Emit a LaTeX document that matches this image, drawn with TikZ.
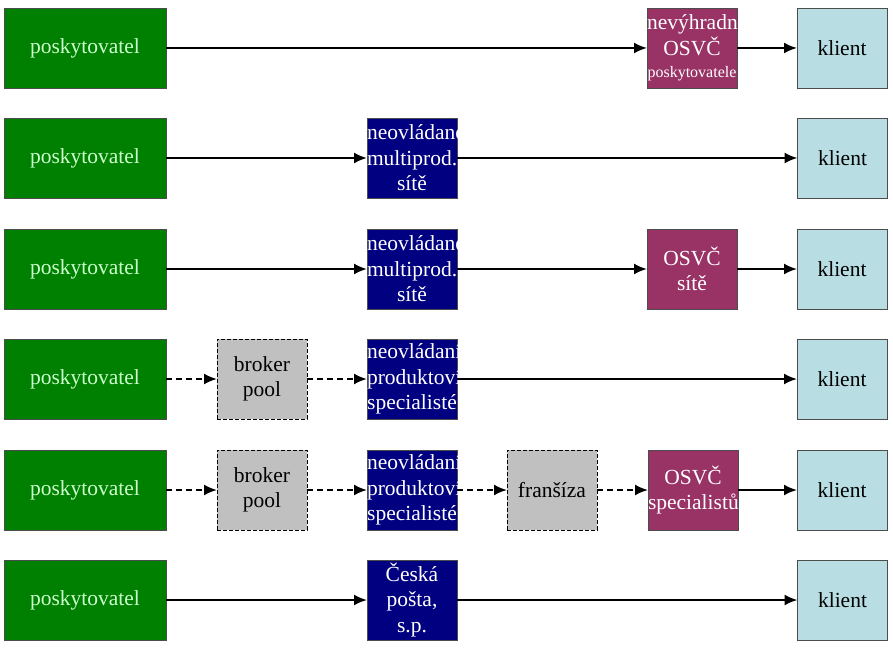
\documentclass[tikz,border=0pt]{standalone}
\usepackage{fontspec}
\setmainfont{Liberation Serif}
\usetikzlibrary{arrows.meta}
\definecolor{gbox}{RGB}{0,128,0}
\definecolor{gtext}{RGB}{204,255,204}
\definecolor{nbox}{RGB}{0,0,128}
\definecolor{mbox}{RGB}{153,51,102}
\definecolor{kbox}{RGB}{184,222,228}
\definecolor{sbox}{RGB}{192,192,192}
\hfuzz=100pt
\tikzset{
  base/.style={rectangle, draw=black!70, line width=0.6pt, minimum height=80pt, inner sep=0pt, outer sep=0pt, align=center, font=\fontsize{21.5}{25.5}\selectfont},
  prov/.style={base, fill=gbox, text=gtext, minimum width=162pt, text width=162pt},
  navy/.style={base, fill=nbox, text=white, minimum width=90pt, text width=90pt},
  maroon/.style={base, fill=mbox, text=white, minimum width=90pt, text width=90pt},
  client/.style={base, fill=kbox, text=black, minimum width=90pt, text width=90pt},
  grey/.style={base, fill=sbox, text=black, draw=black, dash pattern=on 4pt off 2pt, minimum width=90pt, text width=90pt},
  arr/.style={line width=2pt, -{Latex[length=13pt,width=11pt]}},
  darr/.style={arr, dash pattern=on 6pt off 4pt}
}
\begin{document}
\begin{tikzpicture}[x=1pt,y=-1pt]
\useasboundingbox (0,0) rectangle (893,652);
% row 1
\node[prov] (p1) at (85,48) {poskytovatel};
\node[maroon] (m1) at (692,48) {nevýhradní\\OSVČ\\[-3pt]{\fontsize{16}{18}\selectfont poskytovatele}};
\node[client] (k1) at (842,48) {klient};
\draw[arr] (p1) -- (m1);
\draw[arr] (m1) -- (k1);
% row 2
\node[prov] (p2) at (85,158) {poskytovatel};
\node[navy] (n2) at (412,158) {neovládané\\multiprod.\\sítě};
\node[client] (k2) at (842.5,158) {klient};
\draw[arr] (p2) -- (n2);
\draw[arr] (n2) -- (k2);
% row 3
\node[prov] (p3) at (85,269) {poskytovatel};
\node[navy] (n3) at (412,269) {neovládané\\multiprod.\\sítě};
\node[maroon] (m3) at (692,269) {OSVČ\\sítě};
\node[client] (k3) at (842,269) {klient};
\draw[arr] (p3) -- (n3);
\draw[arr] (n3) -- (m3);
\draw[arr] (m3) -- (k3);
% row 4
\node[prov] (p4) at (85,379) {poskytovatel};
\node[grey] (b4) at (262,379) {broker\\pool};
\node[navy] (n4) at (412,379) {neovládaní\\produktoví\\specialisté};
\node[client] (k4) at (842,379) {klient};
\draw[darr] (p4) -- (b4);
\draw[darr] (b4) -- (n4);
\draw[arr] (n4) -- (k4);
% row 5
\node[prov] (p5) at (85,490) {poskytovatel};
\node[grey] (b5) at (262,490) {broker\\pool};
\node[navy] (n5) at (412,490) {neovládaní\\produktoví\\specialisté};
\node[grey] (f5) at (552,490) {franšíza};
\node[maroon] (m5) at (693,490) {OSVČ\\specialistů};
\node[client] (k5) at (842,490) {klient};
\draw[darr] (p5) -- (b5);
\draw[darr] (b5) -- (n5);
\draw[darr] (n5) -- (f5);
\draw[darr] (f5) -- (m5);
\draw[arr] (m5) -- (k5);
% row 6
\node[prov] (p6) at (85,600) {poskytovatel};
\node[navy] (n6) at (412,600) {Česká\\pošta,\\s.p.};
\node[client] (k6) at (842.5,600) {klient};
\draw[arr] (p6) -- (n6);
\draw[arr] (n6) -- (k6);
\end{tikzpicture}
\end{document}
